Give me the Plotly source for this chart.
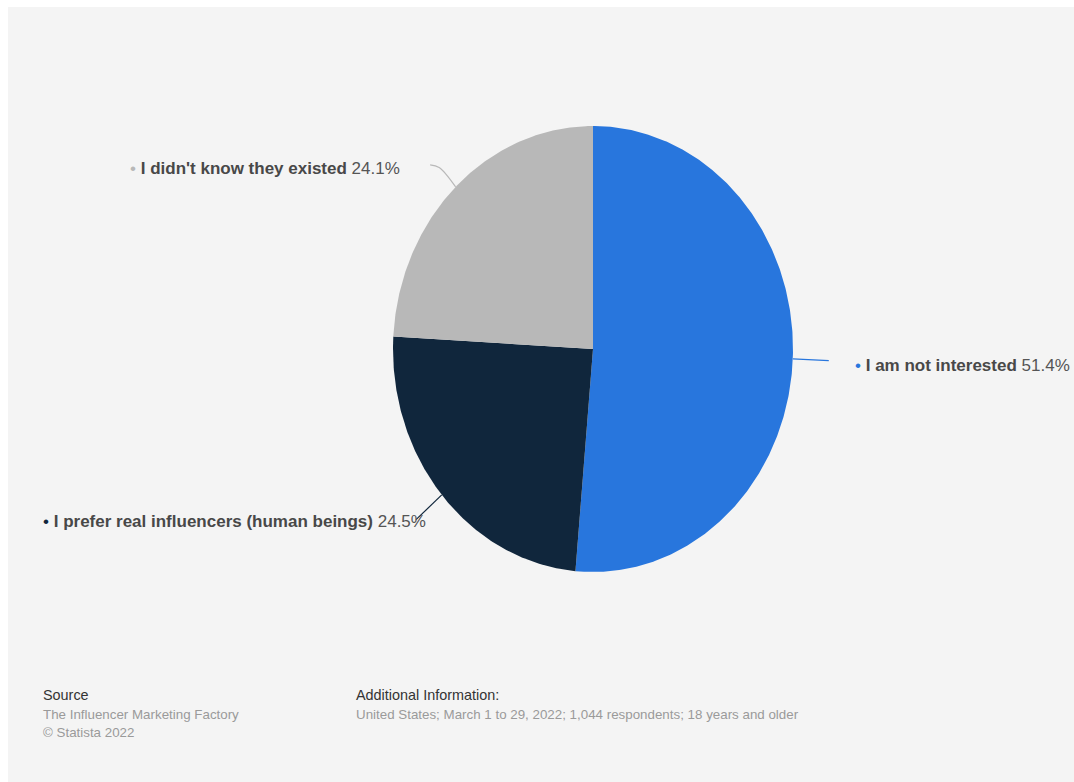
import numpy as np
import plotly.graph_objects as go

# Survey answers, in clockwise order starting at 12 o'clock
categories = ["I am not interested", "I prefer real influencers (human beings)", "I didn't know they existed"]
shares = [51.4, 24.5, 24.1]
colors = ["#2876dd", "#10263c", "#b8b8b8"]

W, H = 1074, 782
ML, MT = 8, 7
PW, PH = W - ML, H - MT
CX, CY = 593, 349          # pie centre (px)
RX, RY = 200, 223          # pie radii (px)

def px(x):
    return (x - ML) / PW

def py(y):
    return 1 - (y - MT) / PH

fig = go.Figure()

total = sum(shares)
start = 0.0
mids = []
for cat, val, col in zip(categories, shares, colors):
    frac0 = start / total
    frac1 = (start + val) / total
    th = np.linspace(frac0, frac1, max(int((frac1 - frac0) * 720), 8)) * 2 * np.pi
    xs = np.concatenate([[0], np.sin(th), [0]])
    ys = np.concatenate([[0], np.cos(th), [0]])
    fig.add_trace(go.Scatter(x=xs, y=ys, fill="toself", fillcolor=col, mode="lines",
                             line=dict(width=0, color=col), hoverinfo="skip", showlegend=False))
    mids.append((frac0 + frac1) / 2 * 2 * np.pi)
    start += val

# Leader lines from the rim of each slice
def radial(a, r):
    return r * np.sin(a), r * np.cos(a)

a0, a1, a2 = mids
x0, y0 = zip(radial(a0, 1.0), radial(a0, 1.18))
x1, y1 = zip(radial(a1, 1.0), radial(a1, 1.17))
pa, pb = radial(a2, 1.0), radial(a2, 1.12)
x2 = [pa[0], pb[0], pb[0] - 0.045]
y2 = [pa[1], pb[1], pb[1] + 0.012]
for xs, ys, col, shape in [(x0, y0, colors[0], "linear"), (x1, y1, colors[1], "linear"),
                           (x2, y2, colors[2], "spline")]:
    fig.add_trace(go.Scatter(x=list(xs), y=list(ys), mode="lines",
                             line=dict(color=col, width=1.2, shape=shape),
                             hoverinfo="skip", showlegend=False))

FONT = "Liberation Sans, Arial, sans-serif"

def label(cat, val, col):
    return (f"<span style='color:{col}'>•</span> "
            f"<b>{cat}</b> <span style='color:#555555'>{val:.1f}%</span>")

label_pos = [(853, 366), (41, 521), (128, 168)]
for cat, val, col, (lx, ly) in zip(categories, shares, colors, label_pos):
    fig.add_annotation(x=px(lx), y=py(ly), xref="paper", yref="paper", xanchor="left", yanchor="middle",
                       text=label(cat, val, col), showarrow=False,
                       font=dict(family=FONT, size=17, color="#484848"))

footer = [
    (41, 695, "Source", "#333333", 14.4),
    (41, 714, "The Influencer Marketing Factory", "#9a9a9a", 13.35),
    (41, 732, "© Statista 2022", "#9a9a9a", 13.35),
    (354, 695, "Additional Information:", "#333333", 14.4),
    (354, 714, "United States; March 1 to 29, 2022; 1,044 respondents; 18 years and older", "#9a9a9a", 13.35),
]
for fx, fy, txt, col, fs in footer:
    fig.add_annotation(x=px(fx), y=py(fy), xref="paper", yref="paper", xanchor="left", yanchor="middle",
                       text=txt, showarrow=False, font=dict(family=FONT, size=fs, color=col))

xr = [-(CX - ML) / RX, (W - CX) / RX]
yr = [-(H - CY) / RY, (CY - MT) / RY]
fig.update_xaxes(range=xr, visible=False, fixedrange=True)
fig.update_yaxes(range=yr, visible=False, fixedrange=True)
fig.update_layout(width=W, height=H, margin=dict(l=ML, t=MT, r=0, b=0, pad=0),
                  paper_bgcolor="#ffffff", plot_bgcolor="#f4f4f4", showlegend=False)

fig.write_html("out.html")
